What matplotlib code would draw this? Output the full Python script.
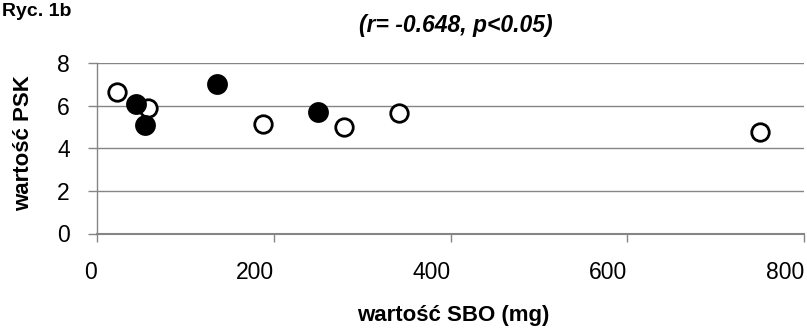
import matplotlib
matplotlib.use("Agg")
import matplotlib.pyplot as plt

# Data
open_x = [23, 58, 188, 280, 342, 750]
open_y = [6.65, 5.92, 5.16, 5.00, 5.66, 4.77]
filled_x = [44, 54, 136, 250]
filled_y = [6.07, 5.08, 7.01, 5.69]
x_ticks = [0, 200, 400, 600, 800]
y_ticks = [0, 2, 4, 6, 8]
title_text = "(r= -0.648, p<0.05)"
fig_label = "Ryc. 1b"
x_label = "wartość SBO (mg)"
y_label = "wartość PSK"

plt.rcParams['font.family'] = ['Liberation Sans', 'DejaVu Sans']

W, H = 807, 329
fig = plt.figure(figsize=(W / 100, H / 100), dpi=100)
L, R, T, B = 97, 804, 63.3, 233.5
ax = fig.add_axes([L / W, 1 - B / H, (R - L) / W, (B - T) / H])

grid_c = "#858585"
ax.set_xlim(0, 800)
ax.set_ylim(0, 8)
ax.set_xticks(x_ticks)
ax.set_yticks(y_ticks)
ax.yaxis.grid(True, color=grid_c, linewidth=1.0)
ax.set_axisbelow(True)
for s in ["top", "right"]:
    ax.spines[s].set_visible(False)
ax.spines["left"].set_color(grid_c)
ax.spines["left"].set_linewidth(1.0)
ax.spines["bottom"].set_color(grid_c)
ax.spines["bottom"].set_linewidth(1.5)
ax.tick_params(axis="x", direction="out", length=6, width=1.0, color=grid_c,
               labelsize=16.5, pad=14)
ax.tick_params(axis="y", direction="out", length=6.5, width=1.0, color=grid_c,
               labelsize=16.5, pad=13)
for lab in ax.get_xticklabels():
    lab.set_horizontalalignment("right")

ax.plot(open_x, open_y, linestyle="none", marker="o", markersize=12.6,
        markerfacecolor="white", markeredgecolor="black", markeredgewidth=2.0,
        clip_on=False, zorder=3)
ax.plot(filled_x, filled_y, linestyle="none", marker="o", markersize=15,
        markerfacecolor="black", markeredgecolor="black", markeredgewidth=0,
        clip_on=False, zorder=4)

ax.set_title(title_text, fontsize=16.5, fontweight="bold", fontstyle="italic",
             x=(456 - L) / (R - L), y=(B - 25.5) / (B - T), va="center", pad=0)
ax.set_xlabel(x_label, fontsize=16, fontweight="bold", va="center")
ax.xaxis.set_label_coords((453 - L) / (R - L), (B - 315) / (B - T))
ax.set_ylabel(y_label, fontsize=16, fontweight="bold", va="center")
ax.yaxis.set_label_coords((24 - L) / (R - L), (B - 143) / (B - T))

fig.text(2 / W, 1 - 12 / H, fig_label, fontsize=14, fontweight="bold",
         ha="left", va="center")

fig.savefig("out.png", dpi=100)
